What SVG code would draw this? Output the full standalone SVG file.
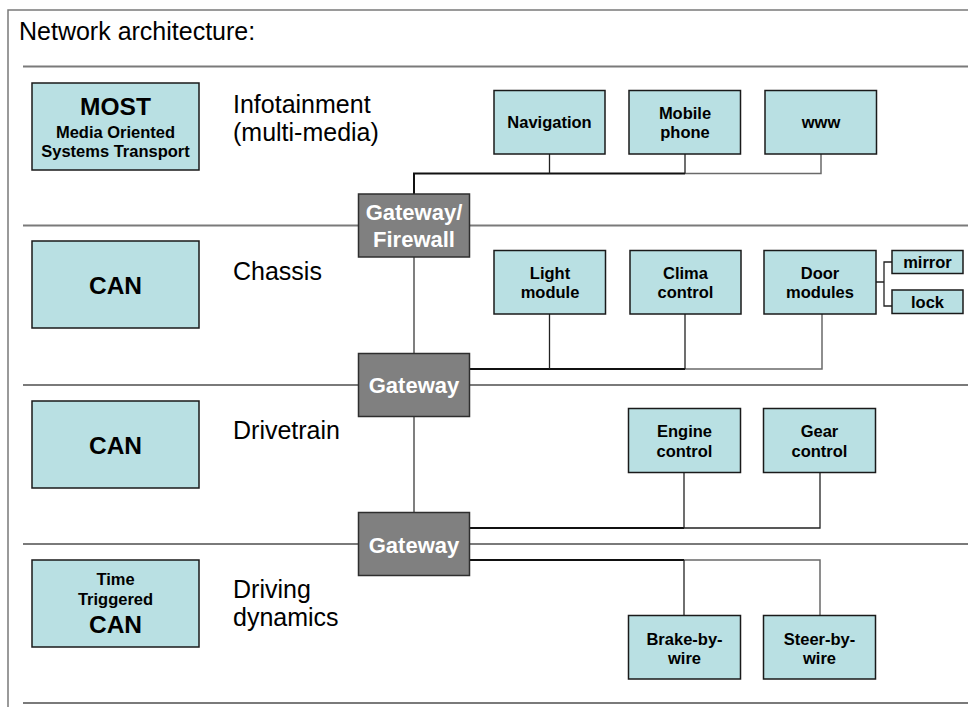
<svg xmlns="http://www.w3.org/2000/svg" width="968" height="707" viewBox="0 0 968 707">
  <style>
    .frame { fill: none; stroke: #7a7a7a; stroke-width: 1.5; }
    .sec { stroke: #7a7a7a; stroke-width: 2; }
    .bus { fill: none; stroke: #111; stroke-width: 2; }
    .tap { fill: none; stroke: #222; stroke-width: 1.3; }
    .far { fill: none; stroke: #6a6a6a; stroke-width: 1.5; }
    .link { fill: none; stroke: #555; stroke-width: 1.5; }
    .box rect { fill: #b9e0e3; stroke: #1a1a1a; stroke-width: 1.5; }
    .gw rect { fill: #808080; stroke: #2e2e2e; stroke-width: 1.5; }
    text { font-family: "Liberation Sans", Arial, sans-serif; fill: #000; }
    .lbl { font-size: 25px; }
    .big { font-size: 24.5px; font-weight: bold; text-anchor: middle; }
    .sm { font-size: 16.5px; font-weight: bold; text-anchor: middle; }
    .gwt { font-size: 22px; font-weight: bold; text-anchor: middle; fill: #fff; }
  </style>

  <!-- page frame and title -->
  <path class="frame" d="M8,707 V10 H968"/>
  <text class="lbl" x="19" y="40">Network architecture:</text>

  <!-- domain separators -->
  <g id="separators">
    <line class="sec" x1="23" y1="66.5" x2="968" y2="66.5"/>
    <line class="sec" x1="23" y1="225.5" x2="968" y2="225.5"/>
    <line class="sec" x1="23" y1="385" x2="968" y2="385"/>
    <line class="sec" x1="23" y1="544" x2="968" y2="544"/>
    <line class="sec" x1="23" y1="703" x2="968" y2="703"/>
  </g>

  <!-- domain labels -->
  <g id="domain-labels">
    <text class="lbl" x="233" y="113">Infotainment</text>
    <text class="lbl" x="233" y="141">(multi-media)</text>
    <text class="lbl" x="233" y="280">Chassis</text>
    <text class="lbl" x="233" y="439">Drivetrain</text>
    <text class="lbl" x="233" y="598">Driving</text>
    <text class="lbl" x="233" y="626">dynamics</text>
  </g>

  <!-- bus technology boxes -->
  <g id="bus-most" class="box">
    <rect x="32" y="83" width="167" height="87"/>
    <text class="big" x="115.5" y="115">MOST</text>
    <text class="sm" x="115.5" y="138">Media Oriented</text>
    <text class="sm" x="115.5" y="157">Systems Transport</text>
  </g>
  <g id="bus-can-chassis" class="box">
    <rect x="32" y="241" width="167" height="87"/>
    <text class="big" x="115.5" y="294">CAN</text>
  </g>
  <g id="bus-can-drivetrain" class="box">
    <rect x="32" y="401" width="167" height="87"/>
    <text class="big" x="115.5" y="454">CAN</text>
  </g>
  <g id="bus-ttcan" class="box">
    <rect x="32" y="560" width="167" height="87"/>
    <text class="sm" x="115.5" y="585">Time</text>
    <text class="sm" x="115.5" y="605">Triggered</text>
    <text class="big" x="115.5" y="633">CAN</text>
  </g>

  <!-- connectors -->
  <g id="connectors">
    <!-- infotainment bus -->
    <path class="bus" d="M414,194 V173.5 H685"/>
    <path class="far" d="M685,173.5 H821 V154"/>
    <path class="tap" d="M549.5,154 V173.5 M685,154 V173.5"/>
    <!-- gateway backbone -->
    <path class="link" d="M414,257 V353 M414,417 V512"/>
    <!-- chassis bus -->
    <path class="bus" d="M470,369 H685"/>
    <path class="far" d="M685,369 H822 V314"/>
    <path class="tap" d="M549.5,314 V369 M685,314 V369"/>
    <!-- door module branches -->
    <path class="tap" d="M876,282 H884 M892,262 H884 V306 H892"/>
    <!-- drivetrain bus -->
    <path class="bus" d="M470,528 H684"/>
    <path class="tap" d="M684,528 H820 V472 M684,472 V528"/>
    <!-- driving dynamics bus -->
    <path class="bus" d="M470,560 H684"/>
    <path class="far" d="M684,560 H820 V615"/>
    <path class="tap" d="M684,560 V615"/>
  </g>

  <!-- gateways -->
  <g id="gw-firewall" class="gw">
    <rect x="358.5" y="194" width="111" height="63"/>
    <text class="gwt" x="414" y="220">Gateway/</text>
    <text class="gwt" x="414" y="247">Firewall</text>
  </g>
  <g id="gw-chassis" class="gw">
    <rect x="358.5" y="353.5" width="111" height="63"/>
    <text class="gwt" x="414" y="393">Gateway</text>
  </g>
  <g id="gw-drivetrain" class="gw">
    <rect x="358.5" y="512.5" width="111" height="63"/>
    <text class="gwt" x="414" y="552.5">Gateway</text>
  </g>

  <!-- infotainment devices -->
  <g id="navigation" class="box">
    <rect x="494" y="90.5" width="111" height="63.5"/>
    <text class="sm" x="549.5" y="128">Navigation</text>
  </g>
  <g id="mobile-phone" class="box">
    <rect x="629" y="90.5" width="111.5" height="63.5"/>
    <text class="sm" x="685" y="119">Mobile</text>
    <text class="sm" x="685" y="138">phone</text>
  </g>
  <g id="www" class="box">
    <rect x="765" y="90.5" width="111.5" height="63.5"/>
    <text class="sm" x="821" y="128">www</text>
  </g>

  <!-- chassis devices -->
  <g id="light-module" class="box">
    <rect x="494" y="250.5" width="111.5" height="63.5"/>
    <text class="sm" x="550" y="279">Light</text>
    <text class="sm" x="550" y="298">module</text>
  </g>
  <g id="clima-control" class="box">
    <rect x="630" y="250.5" width="111" height="63.5"/>
    <text class="sm" x="685.5" y="279">Clima</text>
    <text class="sm" x="685.5" y="298">control</text>
  </g>
  <g id="door-modules" class="box">
    <rect x="764" y="250.5" width="112" height="63.5"/>
    <text class="sm" x="820" y="279">Door</text>
    <text class="sm" x="820" y="298">modules</text>
  </g>
  <g id="mirror" class="box">
    <rect x="892" y="250.5" width="71" height="23"/>
    <text class="sm" x="927.5" y="268">mirror</text>
  </g>
  <g id="lock" class="box">
    <rect x="892" y="290" width="71" height="23.5"/>
    <text class="sm" x="927.5" y="308">lock</text>
  </g>

  <!-- drivetrain devices -->
  <g id="engine-control" class="box">
    <rect x="628.5" y="408.5" width="112" height="64"/>
    <text class="sm" x="684.5" y="437">Engine</text>
    <text class="sm" x="684.5" y="456.5">control</text>
  </g>
  <g id="gear-control" class="box">
    <rect x="763.5" y="408.5" width="112" height="64"/>
    <text class="sm" x="819.5" y="437">Gear</text>
    <text class="sm" x="819.5" y="456.5">control</text>
  </g>

  <!-- driving dynamics devices -->
  <g id="brake-by-wire" class="box">
    <rect x="628.5" y="615.5" width="112" height="63.5"/>
    <text class="sm" x="684.5" y="645">Brake-by-</text>
    <text class="sm" x="684.5" y="664">wire</text>
  </g>
  <g id="steer-by-wire" class="box">
    <rect x="763.5" y="615.5" width="112" height="63.5"/>
    <text class="sm" x="819.5" y="645">Steer-by-</text>
    <text class="sm" x="819.5" y="664">wire</text>
  </g>
</svg>
